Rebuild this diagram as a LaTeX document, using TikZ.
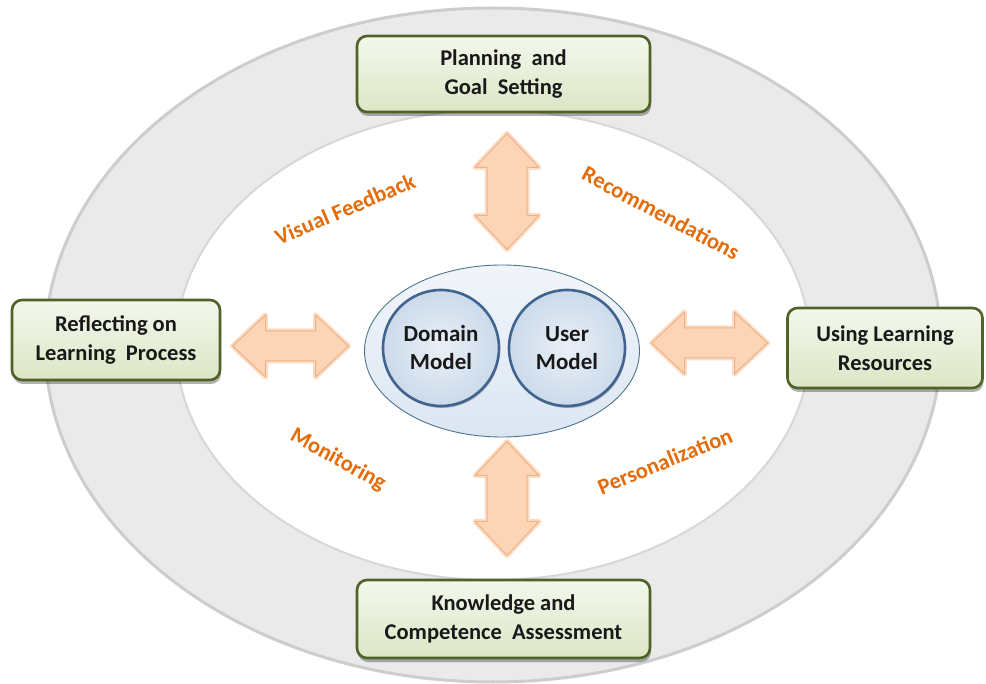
\documentclass[tikz,border=0pt]{standalone}
\usepackage{fontspec}
\setmainfont{Carlito}
\usetikzlibrary{shadows,shapes.geometric}
\definecolor{ringgray}{HTML}{EAEAEA}
\definecolor{ringedge}{HTML}{CDCDCD}
\definecolor{boxfill}{HTML}{EBF1DE}
\definecolor{boxtop}{HTML}{F3F7EC}
\definecolor{boxbot}{HTML}{DCE6C6}
\definecolor{boxedge}{HTML}{4F6228}
\definecolor{arrfill}{HTML}{FBD5B5}
\definecolor{arredge}{HTML}{F2B084}
\definecolor{arrglow}{HTML}{FAC9A0}
\definecolor{lblorange}{HTML}{E46C0A}
\definecolor{ctrfill}{HTML}{DCE6F2}
\definecolor{ctredge}{HTML}{4D7590}
\definecolor{circfill}{HTML}{CCDAEB}
\definecolor{circedge}{HTML}{41648F}
\tikzset{
  boxstyle/.style={rectangle, rounded corners=10pt, draw=boxedge, line width=2.6pt,
    top color=boxtop, bottom color=boxbot, align=center, text=black!90,
    font=\fontsize{22.5}{29}\selectfont\bfseries,
    drop shadow={shadow xshift=1pt, shadow yshift=-4pt, opacity=0.3, fill=black}},
  modelcircle/.style={circle, draw=circedge, line width=2.6pt, inner color=ctrfill!60!white,
    outer color=circfill, align=center, font=\fontsize{23}{28}\selectfont\bfseries,
    minimum size=116pt, inner sep=0pt, text=black!90,
    drop shadow={shadow xshift=1pt, shadow yshift=-2pt, opacity=0.25, fill=black}},
  lbl/.style={text=lblorange, font=\fontsize{22.5}{26}\selectfont\bfseries},
  arrglowline/.style={draw=arrglow, line width=5pt, line join=round, opacity=0.6},
  arrbody/.style={fill=arrfill, draw=arredge, line width=1pt, line join=round}
}
% #1 name, #2 center, #3 rotation, #4 half length, #5 shaft half width, #6 head half width, #7 head length
\newcommand\dblarrow[7]{%
  \coordinate (#1) at #2;
  \begin{scope}[shift={(#1)}, rotate=#3]
    \path[arrglowline] (-#4,0) -- (-#4+#7,-#6) -- (-#4+#7,-#5) -- (#4-#7,-#5) -- (#4-#7,-#6) -- (#4,0)
      -- (#4-#7,#6) -- (#4-#7,#5) -- (-#4+#7,#5) -- (-#4+#7,#6) -- cycle;
    \path[arrbody] (-#4,0) -- (-#4+#7,-#6) -- (-#4+#7,-#5) -- (#4-#7,-#5) -- (#4-#7,-#6) -- (#4,0)
      -- (#4-#7,#6) -- (#4-#7,#5) -- (-#4+#7,#5) -- (-#4+#7,#6) -- cycle;
  \end{scope}}
\begin{document}
\begin{tikzpicture}[x=1pt,y=-1pt]
\useasboundingbox[fill=white] (0,0) rectangle (986,684);
% outer ring
\node[ellipse, minimum width=896pt, minimum height=674pt, inner sep=0pt,
  fill=ringgray, draw=ringedge, line width=3pt] (outer) at (493,345) {};
% inner white ellipse
\node[ellipse, minimum width=634pt, minimum height=470pt, inner sep=0pt,
  fill=white, draw=ringedge!80, line width=2pt] (inner) at (493,345) {};
% central ellipse
\node[ellipse, minimum width=275pt, minimum height=172pt, inner sep=0pt,
  top color=ctrfill!40!white, bottom color=ctrfill, draw=ctredge, line width=0.9pt] (center) at (502,351) {};
\node[modelcircle] (domain) at (441,348) {Domain\\Model};
\node[modelcircle] (user) at (567,348) {User\\Model};
% boxes
\node[boxstyle, minimum width=293pt, minimum height=76pt] (plan) at (503.5,74) {Planning~~and\\Goal~~Setting};
\node[boxstyle, minimum width=208pt, minimum height=80pt] (reflect) at (116,340) {Reflecting on\\Learning~~Process};
\node[boxstyle, minimum width=195pt, minimum height=80pt] (using) at (885,348) {Using Learning\\Resources};
\node[boxstyle, minimum width=293pt, minimum height=78pt] (know) at (503.5,619) {Knowledge and\\Competence~~Assessment};
% arrows
\dblarrow{atop}{(507,191.5)}{90}{58}{20}{32}{34}
\dblarrow{abot}{(507,498.5)}{90}{57}{20}{32}{34}
\dblarrow{aleft}{(290.5,346)}{0}{58}{15}{31}{33}
\dblarrow{aright}{(709.5,343)}{0}{58}{15}{31}{33}
% labels
\node[lbl, rotate=23] (vf) at (345,209) {Visual Feedback};
\node[lbl, rotate=-28] (rec) at (661,213) {Recommendations};
\node[lbl, rotate=-29] (mon) at (338,460) {Monitoring};
\node[lbl, rotate=22] (pers) at (665,461) {Personalization};
\end{tikzpicture}
\end{document}
